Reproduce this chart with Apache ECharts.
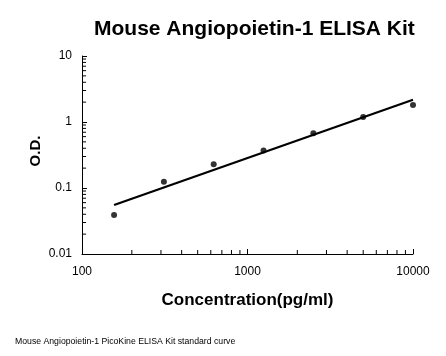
<!DOCTYPE html>
<html>
<head>
<meta charset="utf-8">
<script src="https://cdn.jsdelivr.net/npm/echarts@6/dist/echarts.min.js"></script>
<style>html,body{margin:0;padding:0;background:#fff}#c{width:446px;height:356px}</style>
</head>
<body>
<div id="c"></div>
<script>
var concentrations = [156.25, 312.5, 625, 1250, 2500, 5000, 10000];
var odValues = [0.039, 0.124, 0.230, 0.369, 0.678, 1.195, 1.81];
var xMinorTicks = [200, 300, 400, 500, 600, 700, 800, 900, 2000, 3000, 4000, 5000, 6000, 7000, 8000, 9000];
var yMinorTicks = [0.02, 0.03, 0.04, 0.05, 0.06, 0.07, 0.08, 0.09, 0.2, 0.3, 0.4, 0.5, 0.6, 0.7, 0.8, 0.9, 2, 3, 4, 5, 6, 7, 8, 9];
var titleText = 'Mouse Angiopoietin-1 ELISA Kit';
var xName = 'Concentration(pg/ml)';
var yName = 'O.D.';
var footnote = 'Mouse Angiopoietin-1 PicoKine ELISA Kit standard curve';

// least-squares power-law fit (log-log) of the standards
var lx = concentrations.map(function (v) { return Math.log10(v); });
var ly = odValues.map(function (v) { return Math.log10(v); });
var n = lx.length, mx = 0, my = 0;
for (var i = 0; i < n; i++) { mx += lx[i]; my += ly[i]; }
mx /= n; my /= n;
var sxy = 0, sxx = 0;
for (i = 0; i < n; i++) { sxy += (lx[i] - mx) * (ly[i] - my); sxx += (lx[i] - mx) * (lx[i] - mx); }
var slope = sxy / sxx, icpt = my - slope * mx;
var x0 = concentrations[0], x1 = concentrations[n - 1];
var fitLine = [[x0, Math.pow(10, icpt + slope * Math.log10(x0))], [x1, Math.pow(10, icpt + slope * Math.log10(x1))]];

var minorData = xMinorTicks.map(function (v) { return [v, 0.01, 0]; })
  .concat(yMinorTicks.map(function (v) { return [100, v, 1]; }));

function fmt(v) { return String(+(+v).toPrecision(3)); }

var FONT = '"Liberation Sans", Arial, sans-serif';
var chart = echarts.init(document.getElementById('c'));
chart.setOption({
  animation: false,
  backgroundColor: '#fff',
  title: {
    text: titleText,
    left: 89, top: 14,
    textStyle: { fontFamily: FONT, fontWeight: 'bold', fontSize: 21, color: '#000' }
  },
  graphic: [{
    type: 'text', left: 15, top: 337,
    style: { text: footnote, font: '8.7px ' + FONT, fill: '#000' }
  }],
  grid: { left: 82, right: 33, top: 56, bottom: 102, containLabel: false },
  xAxis: {
    type: 'log', logBase: 10, min: 100, max: 10000,
    name: xName, nameLocation: 'middle', nameGap: 38, nameMoveOverlap: false,
    nameTextStyle: { fontFamily: FONT, fontWeight: 'bold', fontSize: 17, color: '#000' },
    axisLine: { show: true, lineStyle: { color: '#000', width: 1 } },
    axisTick: { show: true, inside: true, length: 5, lineStyle: { color: '#000' } },
    axisLabel: { fontFamily: FONT, fontSize: 12, color: '#000', margin: 12, formatter: fmt },
    splitLine: { show: false }
  },
  yAxis: {
    type: 'log', logBase: 10, min: 0.01, max: 10,
    name: yName, nameLocation: 'middle', nameGap: 39, nameRotate: 90, nameMoveOverlap: false,
    nameTextStyle: { fontFamily: FONT, fontWeight: 'bold', fontSize: 15, color: '#000', padding: [0, 0, 0, 8] },
    axisLine: { show: true, lineStyle: { color: '#000', width: 1 } },
    axisTick: { show: true, inside: true, length: 5, lineStyle: { color: '#000' } },
    axisLabel: { fontFamily: FONT, fontSize: 12, color: '#000', margin: 10, formatter: fmt },
    splitLine: { show: false }
  },
  series: [
    {
      type: 'custom', silent: true, clip: false,
      data: minorData,
      renderItem: function (params, api) {
        var p = api.coord([api.value(0), api.value(1)]);
        var dir = api.value(2);
        var shape = dir === 0 ? { x1: p[0], y1: p[1], x2: p[0], y2: p[1] - 4 }
                              : { x1: p[0], y1: p[1], x2: p[0] + 4, y2: p[1] };
        return { type: 'line', shape: shape, style: { stroke: '#000', lineWidth: 1 } };
      }
    },
    {
      type: 'line', data: fitLine, showSymbol: false, symbol: 'none',
      lineStyle: { color: '#000', width: 2.2 }
    },
    {
      type: 'scatter', data: concentrations.map(function (c, i) { return [c, odValues[i]]; }),
      symbol: 'circle', symbolSize: 6, itemStyle: { color: '#000' }
    }
  ]
});
</script>
</body>
</html>
